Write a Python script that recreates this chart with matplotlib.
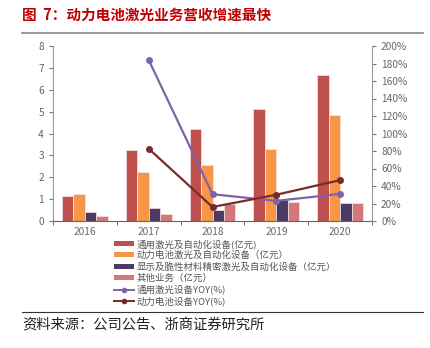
import matplotlib
matplotlib.use("Agg")
import matplotlib.pyplot as plt
import numpy as np
from matplotlib.lines import Line2D
from matplotlib.patches import Patch

plt.rcParams['font.family'] = ['Noto Sans CJK SC', 'DejaVu Sans']

years = ["2016", "2017", "2018", "2019", "2020"]
general_laser = [1.15, 3.24, 4.19, 5.11, 6.67]
battery_laser = [1.23, 2.24, 2.58, 3.31, 4.84]
display_laser = [0.40, 0.60, 0.52, 0.98, 0.84]
other_biz = [0.24, 0.32, 0.76, 0.87, 0.84]
general_yoy = [None, 184, 30.6, 23, 31]
battery_yoy = [None, 82.6, 16, 30, 46.7]

bar_labels = ["通用激光及自动化设备(亿元)", "动力电池激光及自动化设备（亿元）",
              "显示及脆性材料精密激光及自动化设备（亿元）", "其他业务（亿元）"]
line_labels = ["通用激光设备YOY(%)", "动力电池设备YOY(%)"]
bar_colors = ["#C0504D", "#F79646", "#4B3A63", "#D0787A"]
line_colors = ["#7F63A8", "#772B2B"]

fig = plt.figure(figsize=(4.30, 3.48), dpi=100)
ax = fig.add_axes([53/430, 1-221/348, 319/430, 175/348])
ax2 = ax.twinx()

x = np.arange(len(years))
w = 0.18
series = [general_laser, battery_laser, display_laser, other_biz]
for i, (vals, c) in enumerate(zip(series, bar_colors)):
    ax.bar(x + (i - 1.5) * w, vals, width=w, color=c, edgecolor="#F4E6E6", linewidth=0.5, zorder=2)

for vals, c in zip([general_yoy, battery_yoy], line_colors):
    xs = [xi for xi, v in zip(x, vals) if v is not None]
    ys = [v for v in vals if v is not None]
    ax2.plot(xs, ys, color=c, lw=1.6, marker="o", ms=4, zorder=3)

ax.set_xlim(-0.5, len(years) - 0.5)
ax.set_ylim(0, 8)
ax2.set_ylim(0, 200)
ax.set_yticks(range(0, 9))
ax2.set_yticks(range(0, 201, 20))
ax2.set_yticklabels([f"{v}%" for v in range(0, 201, 20)])
ax.set_xticks(x)
ax.set_xticklabels(years)
ax.set_xticks(np.arange(-0.5, len(years)), minor=True)

tick_col = "#666666"
for a in (ax, ax2):
    for s in a.spines.values():
        s.set_visible(False)
    a.tick_params(labelsize=7.3, colors=tick_col, width=0.8)
ax.tick_params(axis="x", which="major", length=0, pad=4)
ax.tick_params(axis="x", which="minor", length=3, color="#555555")
ax.tick_params(axis="y", length=3, color="#777777")
ax2.tick_params(axis="y", length=3, color="#777777")
ax.spines["left"].set_visible(True)
ax.spines["left"].set_color("#999999")
ax.spines["bottom"].set_visible(True)
ax.spines["bottom"].set_color("#666666")
ax2.spines["right"].set_visible(True)
ax2.spines["right"].set_color("#999999")

# Title and rules
fig.text(22/430, 1-15/348, "图  7：动力电池激光业务营收增速最快", color="#C00000",
         fontsize=10.5, fontweight="bold", va="center", ha="left")
fig.add_artist(Line2D([22/430, 423/430], [1-33/348, 1-33/348], color="#888888", lw=1.2))
fig.add_artist(Line2D([22/430, 423/430], [1-312/348, 1-312/348], color="#333333", lw=0.8))
fig.text(22/430, 1-326/348, "资料来源：公司公告、浙商证券研究所", color="#222222",
         fontsize=10.3, va="center", ha="left")

handles = [Patch(facecolor=c, edgecolor="none") for c in bar_colors]
handles += [Line2D([], [], color=c, lw=1.4, marker="o", ms=3) for c in line_colors]
leg = fig.legend(handles, bar_labels + line_labels, loc="upper left",
                 bbox_to_anchor=(114/430, 1-239/348), frameon=False, fontsize=6.8,
                 handlelength=2.1, handleheight=0.45, handletextpad=0.3,
                 labelspacing=0.2, borderaxespad=0, borderpad=0)
for t in leg.get_texts():
    t.set_color("#555555")

fig.savefig("out.png", dpi=100)
